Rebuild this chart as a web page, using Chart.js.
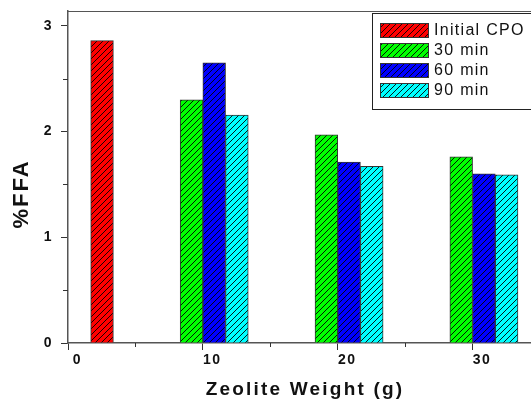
<!DOCTYPE html>
<html>
<head>
<meta charset="utf-8">
<script src="https://cdn.jsdelivr.net/npm/chart.js@4.4.1/dist/chart.umd.min.js"></script>
<style>
html, body { margin: 0; padding: 0; background: #fff; overflow: hidden; }
#wrap { width: 545px; height: 400px; }
</style>
</head>
<body>
<div id="wrap"><canvas id="ffaChart" width="545" height="400"></canvas></div>
<script>
// zeolite weight (g) and % FFA
const zeoliteWeights = [0, 10, 20, 30];
const initialCpo = [2.86, null, null, null];
const ffa30min = [null, 2.30, 1.97, 1.76];
const ffa60min = [null, 2.65, 1.71, 1.60];
const ffa90min = [null, 2.155, 1.67, 1.59];
const seriesNames = ["Initial CPO", "30 min", "60 min", "90 min"];
const seriesColors = ["#ff0000", "#00ff00", "#0000ff", "#00ffff"];
const xTickValues = [0, 10, 20, 30];
const yTickValues = [0, 1, 2, 3];

const FONT = 'Arial, "Liberation Sans", sans-serif';
const X_MAX = 35;
const BAR_PX = 22.7;
const BAR_UNITS = 1.683;          // one bar width in grams on the x axis
const seriesSlot = [3, 1, 2, 3];  // slot of 4 around each tick (initial CPO shares the last one)

function hatch(color){
    const c = document.createElement("canvas");
    c.width = 6; c.height = 6;
    const g = c.getContext("2d");
    g.fillStyle = color;
    g.fillRect(0, 0, 6, 6);
    g.strokeStyle = "rgba(0,0,0,0.9)";
    g.lineWidth = 1;
    g.beginPath();
    g.moveTo(0, 6); g.lineTo(6, 0);
    g.moveTo(-1, 1); g.lineTo(1, -1);
    g.moveTo(5, 7); g.lineTo(7, 5);
    g.stroke();
    return g.createPattern(c, "repeat");
}

function points(values){
    return zeoliteWeights
        .map((w, i) => ({ x: w, y: values[i] }))
        .filter(p => p.y !== null);
}

const allSeries = [initialCpo, ffa30min, ffa60min, ffa90min];

const datasets = allSeries.map((values, i) => ({
    label: seriesNames[i],
    data: points(values),
    xAxisID: "xs" + seriesSlot[i],
    grouped: false,
    barThickness: BAR_PX,
    backgroundColor: hatch(seriesColors[i]),
    borderColor: "#333",
    borderWidth: 1,
    borderSkipped: "start"
}));

const spacing = {
    id: "spacing",
    beforeDraw(chart){ chart.ctx.letterSpacing = "1.5px"; }
};

const frameAndMinor = {
    id: "frameAndMinor",
    afterDraw(chart){
        const { ctx, chartArea: a, scales: { x, y } } = chart;
        ctx.save();
        ctx.strokeStyle = "#555";
        ctx.lineWidth = 1;
        ctx.beginPath();
        ctx.moveTo(a.left, a.top + 0.5);
        ctx.lineTo(a.right, a.top + 0.5);
        ctx.lineTo(a.right, a.bottom);
        ctx.stroke();

        ctx.strokeStyle = "#333";
        ctx.beginPath();
        for(const v of yTickValues.slice(0, -1)){
            const py = Math.round(y.getPixelForValue(v + 0.5)) + 0.5;
            ctx.moveTo(a.left - 5, py);
            ctx.lineTo(a.left, py);
        }
        for(const v of xTickValues){
            const px = Math.round(x.getPixelForValue(v + 5)) + 0.5;
            ctx.moveTo(px, a.bottom);
            ctx.lineTo(px, a.bottom + 4);
        }
        ctx.stroke();
        ctx.restore();
    }
};

const axisTitles = {
    id: "axisTitles",
    afterDraw(chart){
        const { ctx, chartArea: a } = chart;
        ctx.save();
        ctx.fillStyle = "#111";
        ctx.textAlign = "center";
        ctx.textBaseline = "middle";
        ctx.letterSpacing = "2.2px";
        ctx.font = "bold 19px " + FONT;
        ctx.fillText("Zeolite Weight (g)", (a.left + a.right) / 2 + 1, 390);

        ctx.letterSpacing = "2px";
        ctx.font = "bold 22px " + FONT;
        ctx.translate(22, 194);
        ctx.rotate(-Math.PI / 2);
        ctx.fillText("%FFA", 0, 0);
        ctx.restore();
    }
};

const boxedLegend = {
    id: "boxedLegend",
    afterDraw(chart){
        const ctx = chart.ctx;
        const left = 372, top = 13;
        ctx.save();
        ctx.strokeStyle = "#222";
        ctx.lineWidth = 1;
        ctx.strokeRect(left + 0.5, top + 0.5, 200, 96);
        chart.data.datasets.forEach((ds, i) => {
            const y = top + 10 + i * 20;
            ctx.fillStyle = ds.backgroundColor;
            ctx.fillRect(380, y, 49, 15);
            ctx.strokeStyle = "#333";
            ctx.strokeRect(380.5, y + 0.5, 48, 14);
            ctx.fillStyle = "#111";
            ctx.font = "16px " + FONT;
            ctx.letterSpacing = "1.3px";
            ctx.textBaseline = "middle";
            ctx.textAlign = "left";
            ctx.fillText(ds.label, 434, y + 8);
        });
        ctx.restore();
    }
};

function noPadding(s){
    s.paddingTop = 0;
    s.paddingBottom = 0;
    s.paddingLeft = 0;
    s.paddingRight = 0;
}

// hidden axis for one bar slot: same scale as x, shifted by the slot's offset
function slotAxis(slot){
    const shift = (slot - 1.5) * BAR_UNITS;
    return {
        type: "linear",
        display: false,
        offset: false,
        min: -shift,
        max: X_MAX - shift
    };
}

const tickFont = { family: FONT, size: 14, weight: "bold" };

new Chart(document.getElementById("ffaChart"), {
    type: "bar",
    data: { datasets },
    options: {
        responsive: false,
        animation: false,
        layout: { padding: { left: 0, right: 5, top: 11, bottom: 0 } },
        plugins: {
            legend: { display: false },
            tooltip: { enabled: false }
        },
        scales: {
            x: {
                type: "linear",
                min: 0,
                max: X_MAX,
                offset: false,
                afterFit: s => { s.height = 57; noPadding(s); },
                afterBuildTicks: s => { s.ticks = xTickValues.map(v => ({ value: v })); },
                ticks: {
                    color: "#111",
                    font: tickFont,
                    padding: 2,
                    labelOffset: 9.5,
                    maxRotation: 0,
                    autoSkip: false
                },
                grid: { offset: false, drawOnChartArea: false, tickLength: 7, color: "#333" },
                border: { color: "#555", width: 1.5 }
            },
            xs1: slotAxis(1),
            xs2: slotAxis(2),
            xs3: slotAxis(3),
            y: {
                min: 0,
                max: 3.14,
                afterFit: s => { s.width = 68; noPadding(s); },
                afterBuildTicks: s => { s.ticks = yTickValues.map(v => ({ value: v })); },
                ticks: {
                    color: "#111",
                    font: tickFont,
                    padding: 8
                },
                grid: { drawOnChartArea: false, tickLength: 7, color: "#333" },
                border: { color: "#555", width: 1.5 }
            }
        }
    },
    plugins: [spacing, frameAndMinor, axisTitles, boxedLegend]
});
</script>
</body>
</html>
